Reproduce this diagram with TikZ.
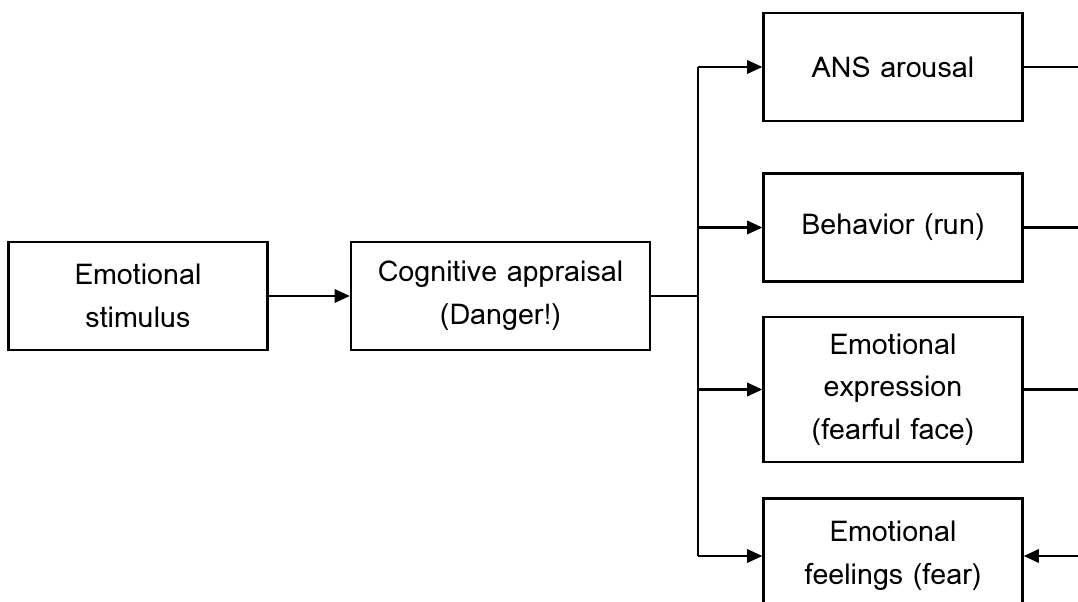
\documentclass[tikz,border=0pt]{standalone}
\usepackage{fontspec}
\setmainfont{Loma}
\usetikzlibrary{arrows.meta}

\tikzset{
  box/.style={draw, line width=1.9pt, minimum width=194pt, minimum height=81pt,
    align=center, font=\fontsize{21.5}{32}\selectfont, inner sep=0pt},
  arr/.style={line width=1.9pt, -{Triangle[length=11.5pt,width=10pt]}},
  ln/.style={line width=1.9pt}
}

\begin{document}
\begin{tikzpicture}[x=0.75pt,y=0.75pt]
    \useasboundingbox (0,0) rectangle (1078,602);
    % left part
    \node[box] (stim) at (138,306) {Emotional\\stimulus};
    \node[box, minimum width=224pt] (appr) at (500.5,306) {Cognitive appraisal\\(Danger!)};
    % right column
    \node[box] (ans)  at (893,535)   {ANS arousal};
    \node[box] (beh)  at (893,374.5) {Behavior (run)};
    \node[box, minimum height=109pt] (expr) at (893,212.5) {Emotional\\expression\\(fearful face)};
    \node[box, minimum height=86pt]  (feel) at (893,46)    {Emotional\\feelings (fear)};
    % bus
    \coordinate (top) at (698,535);
    \coordinate (bot) at (698,46);
    \coordinate (mid) at (698,306);
    \coordinate (in)  at (1100,46);
    \draw[arr] (stim) -- (appr);
    \draw[ln] (appr.east) -- (mid);
    \draw[ln] (top) -- (bot);
    \draw[arr] (top) -- (ans.west);
    \draw[arr] (698,374.5) -- (beh.west);
    \draw[arr] (698,212.5) -- (expr.west);
    \draw[arr] (bot) -- (feel.west);
    % lines running out on the right
    \draw[ln] (ans.east) -- ++(80,0);
    \draw[ln] (beh.east) -- ++(80,0);
    \draw[ln] (expr.east) -- ++(80,0);
    \draw[arr] (in) -- (feel.east);
\end{tikzpicture}
\end{document}
